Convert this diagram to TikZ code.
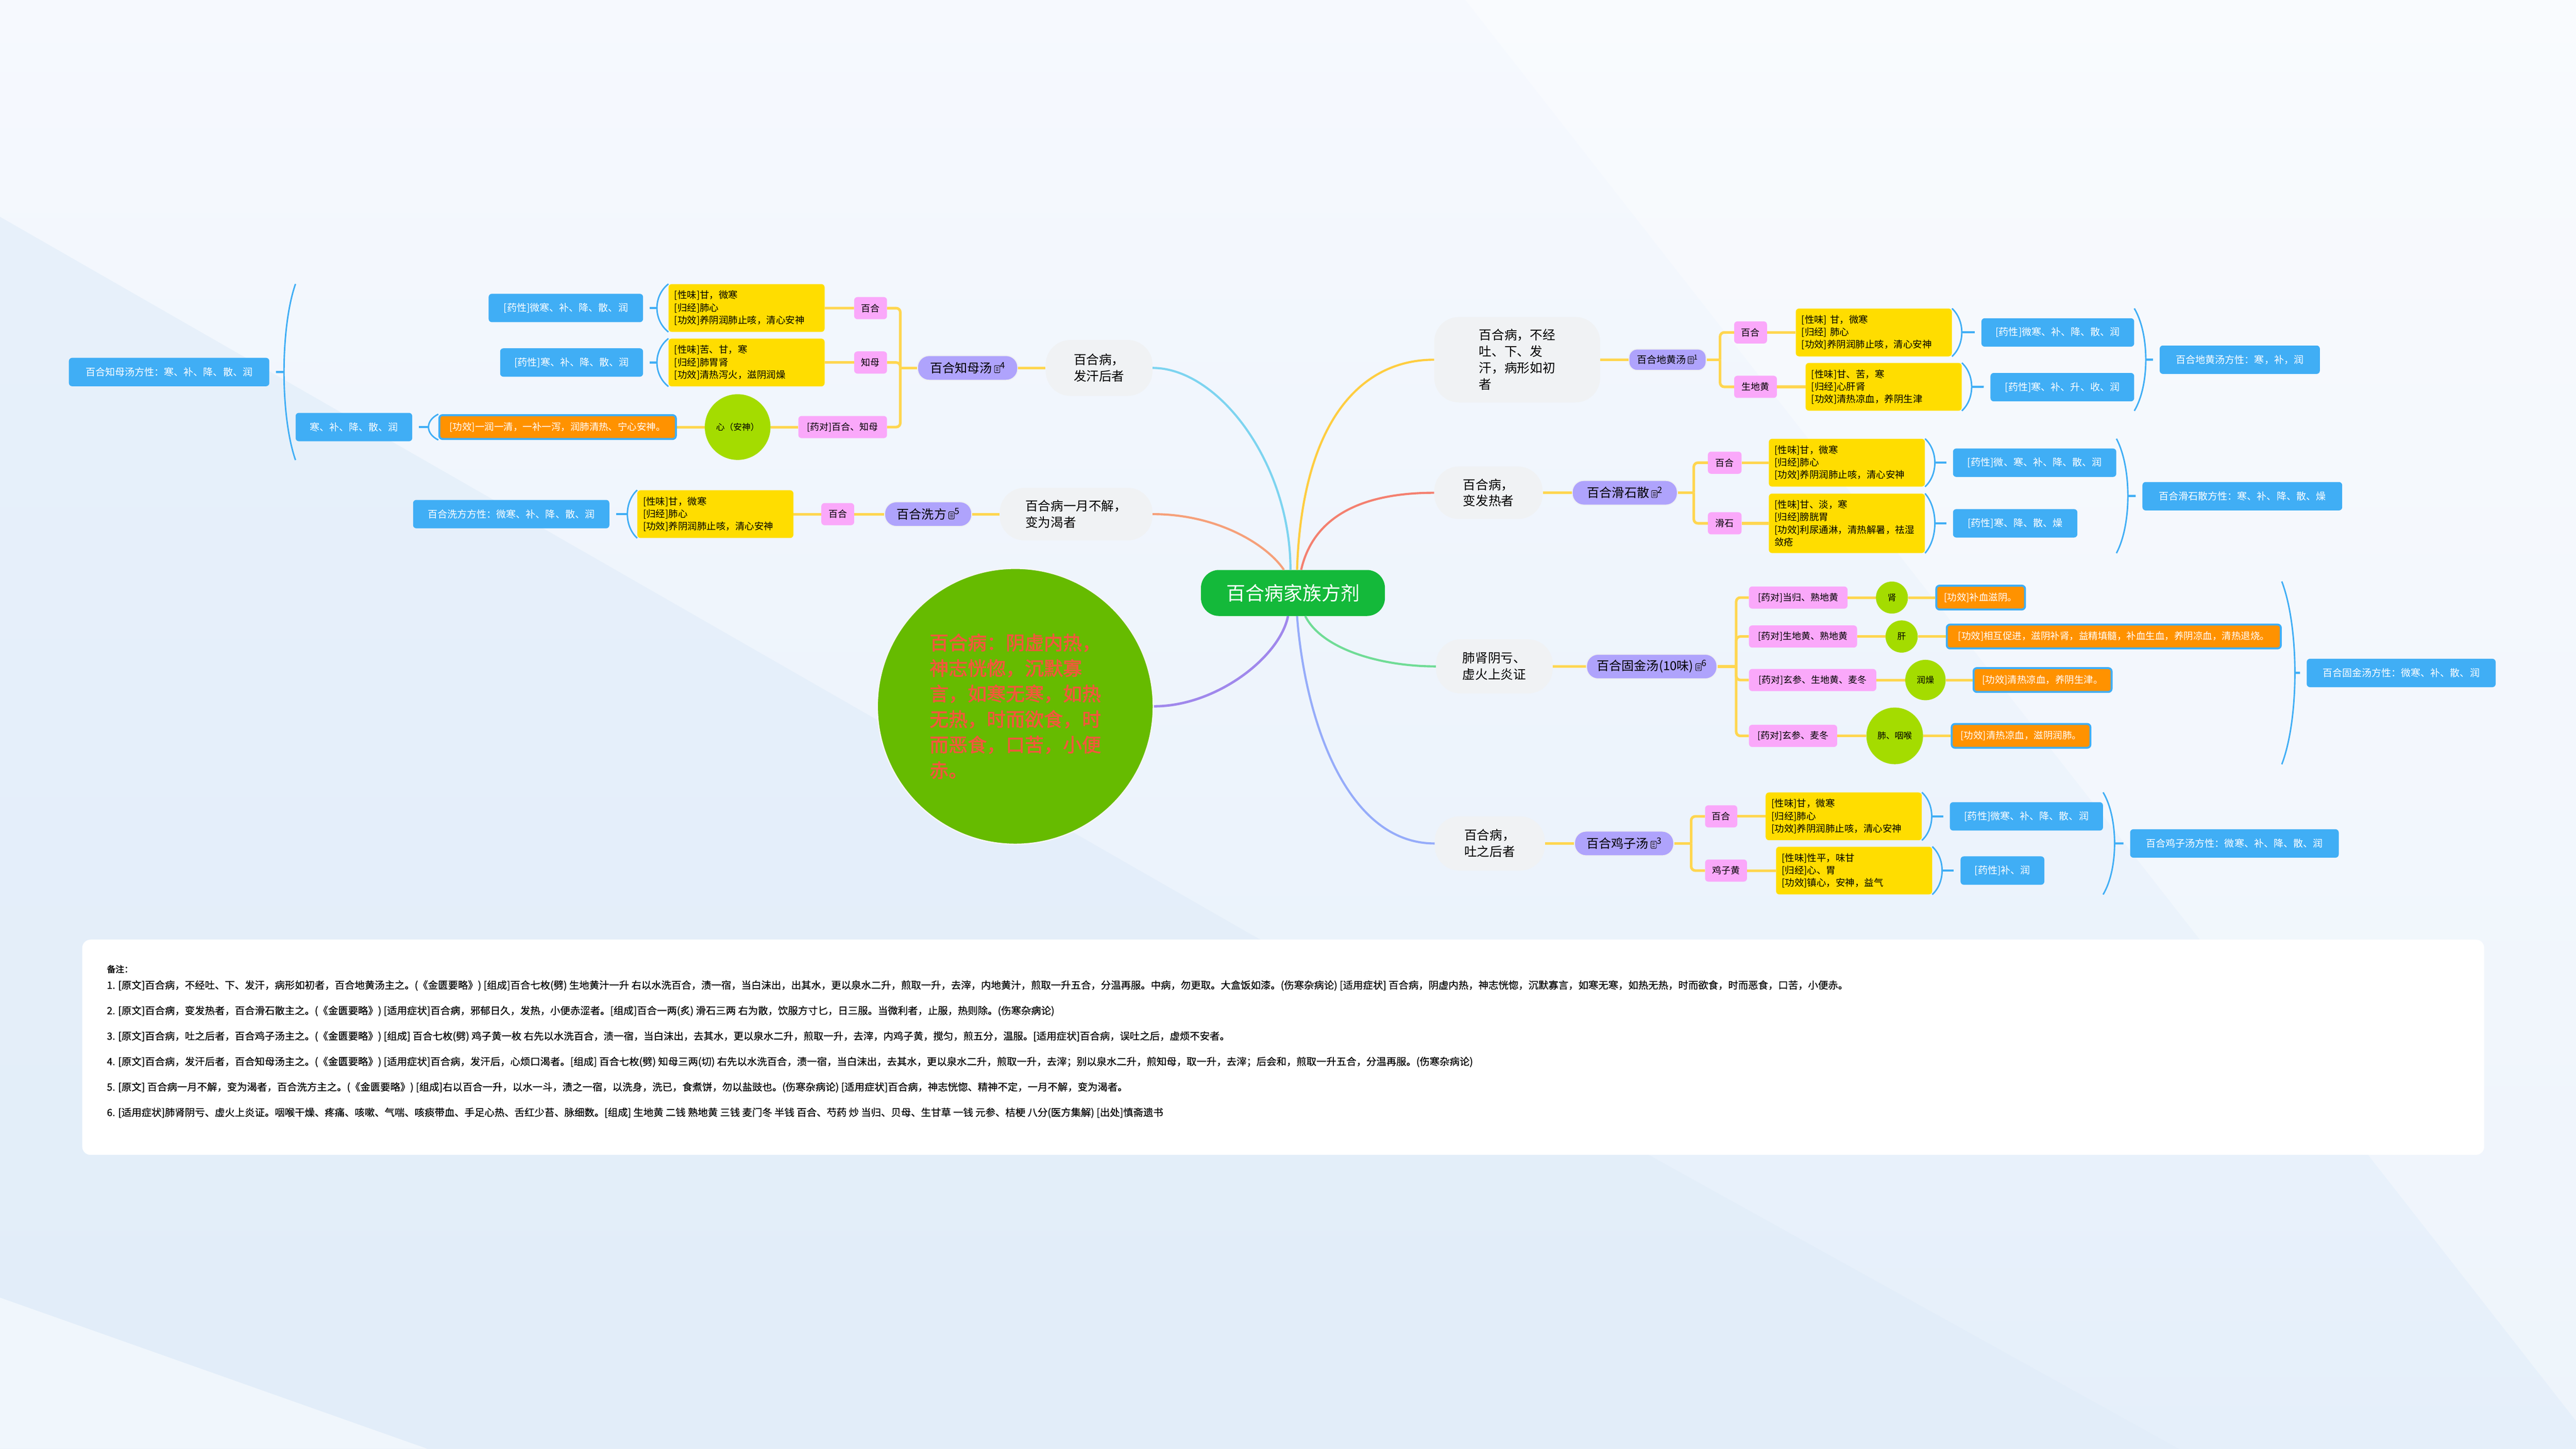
\documentclass[tikz,border=0pt]{standalone}
\usepackage{fontspec}
\setmainfont{Noto Sans CJK SC}
\newfontfamily\heavycjk[FakeBold=2]{Noto Sans CJK SC}
\newfontfamily\notecjk[FakeBold=0.5]{Noto Sans CJK SC}
\usetikzlibrary{calc}

\definecolor{bgtop}{RGB}{246,249,254}
\definecolor{bgblue}{RGB}{229,239,250}
\definecolor{bgmid}{RGB}{224,236,249}
\definecolor{rootgreen}{RGB}{20,185,58}
\definecolor{symgreen}{RGB}{102,187,0}
\definecolor{symred}{RGB}{242,88,60}
\definecolor{topicgray}{RGB}{240,242,244}
\definecolor{formulapurple}{RGB}{175,163,252}
\definecolor{halo}{RGB}{238,240,243}
\definecolor{herbpink}{RGB}{250,168,250}
\definecolor{infoyellow}{RGB}{255,221,0}
\definecolor{propblue}{RGB}{64,174,245}
\definecolor{effectorange}{RGB}{255,146,0}
\definecolor{organgreen}{RGB}{164,220,0}
\definecolor{connyellow}{RGB}{255,214,80}
\definecolor{lineA}{RGB}{125,212,240}
\definecolor{lineB}{RGB}{246,160,122}
\definecolor{lineC}{RGB}{255,205,64}
\definecolor{lineD}{RGB}{244,128,112}
\definecolor{lineE}{RGB}{112,220,150}
\definecolor{lineF}{RGB}{150,172,250}
\definecolor{lineS}{RGB}{160,136,236}

\tikzset{
  rootnode/.style={fill=rootgreen, text=white, rounded corners=11mm, minimum height=28mm, inner sep=0, font=\fontsize{33}{40}\selectfont},
  symptom/.style={circle, fill=symgreen, draw=white!92!gray, line width=0.8mm, minimum size=168mm, inner sep=0, align=left, text=symred, font=\heavycjk\fontsize{33}{44.2}\selectfont},
  topic/.style={fill=topicgray, rounded corners=15mm, inner sep=0, align=left, font=\fontsize{22}{28.5}\selectfont},
  formula/.style={fill=formulapurple, draw=halo, line width=0.6mm, rounded corners=7mm, minimum height=15mm, inner sep=0, font=\fontsize{21.5}{26}\selectfont},
  herb/.style={fill=herbpink, rounded corners=2mm, minimum height=13.5mm, inner sep=0, font=\fontsize{16}{20}\selectfont},
  info/.style={fill=infoyellow, rounded corners=2mm, text width=88mm, inner xsep=3.5mm, inner ysep=4mm, minimum height=29mm, align=left, font=\fontsize{16.5}{21.6}\selectfont},
  prop/.style={fill=propblue, text=white, rounded corners=2mm, minimum height=17.3mm, inner sep=0, font=\fontsize{17}{20}\selectfont},
  effect/.style={fill=effectorange, draw=propblue, line width=1.2mm, text=white, rounded corners=2mm, minimum height=14.5mm, inner sep=0, font=\fontsize{16.5}{20}\selectfont},
  organ/.style={circle, fill=organgreen, inner sep=0, font=\fontsize{15}{18}\selectfont},
  conn/.style={draw=connyellow, line width=1.6mm, rounded corners=2.5mm},
  branch/.style={line width=1.3mm},
  sumline/.style={draw=propblue, line width=0.9mm},
  sumtick/.style={draw=propblue, line width=1.3mm, shorten >=4mm},
  notepanel/.style={fill=white, rounded corners=5mm},
  notetext/.style={inner sep=0, anchor=west, font=\notecjk\fontsize{17.3}{20}\selectfont}
}

% note icon of the formula topics
\newcommand{\noteicon}{\tikz[x=1mm,y=1mm,baseline=0mm,line width=0.3mm]{\draw[black,fill=none,rounded corners=0.4mm] (0,0) rectangle (3.3,4.3); \draw[black] (0.8,1.2)--(2.5,1.2) (0.8,2.15)--(2.5,2.15) (0.8,3.1)--(2.5,3.1);}}
% summary bracket: top, bottom, bulge, summary node
\newcommand{\sumbrace}[4]{%
  \draw[sumline] (#1) .. controls ($(#1)!0.25!(#2)+(1.33*#3,0)$) and ($(#1)!0.75!(#2)+(1.33*#3,0)$) .. (#2);
  \draw[sumtick] ($(#1)!0.5!(#2)+(#3,0)$) -- (#4);}

\begin{document}
\begin{tikzpicture}[x=1mm, y=-1mm]
\useasboundingbox (0,0) rectangle (1568,882);
% background
\shade[top color=bgtop, bottom color=bgblue] (0,0) rectangle (1568,882);
\fill[bgmid, opacity=0.6] (0,132) -- (760,568) -- (1326,882) -- (0,882) -- cycle;
\fill[white, opacity=0.35] (892,0) -- (1568,0) -- (1568,865) -- cycle;
\fill[white, opacity=0.5] (0,790) -- (260,882) -- (0,882) -- cycle;

% centre
\node[rootnode, minimum width=112mm] (root) at (787,361) {百合病家族方剂};
\node[symptom] (sym) at (618,430) {百合病：阴虚内热，\\神志恍惚，沉默寡\\言，如寒无寒，如热\\无热，时而欲食，时\\而恶食，口苦，小便\\赤。};

% cases
\node[topic, minimum width=65mm, minimum height=34mm] (caseA) at (669,224) {百合病，\\发汗后者};
\node[topic, minimum width=93mm, minimum height=32mm] (caseB) at (655,313) {百合病一月不解，\\变为渴者};
\node[topic, minimum width=101mm, minimum height=52mm] (caseC) at (923.5,219) {百合病，不经\\吐、下、发\\汗，病形如初\\者};
\node[topic, minimum width=66mm, minimum height=32mm] (caseD) at (906,300) {百合病，\\变发热者};
\node[topic, minimum width=71mm, minimum height=33mm] (caseE) at (909.6,405.7) {肺肾阴亏、\\虚火上炎证};
\node[topic, minimum width=67mm, minimum height=33mm] (caseF) at (906.8,513.5) {百合病，\\吐之后者};

\draw[branch, lineA] ([xshift=-1.5mm]root.north) .. controls +(0,-65) and +(40,0) .. (caseA.east);
\draw[branch, lineB] ([xshift=-5.5mm]root.north) .. controls +(-10,-15) and +(40,0) .. (caseB.east);
\draw[branch, lineC] ([xshift=2.5mm]root.north) .. controls +(3,-90) and +(-45,0) .. (caseC.west);
\draw[branch, lineD] ([xshift=5mm]root.north) .. controls +(8,-35) and +(-40,0) .. (caseD.west);
\draw[branch, lineS, line width=1.5mm] ([xshift=-3mm]root.south) .. controls +(-5,25) and +(38,0) .. (sym.east);
\draw[branch, lineE] ([xshift=7.5mm]root.south) .. controls +(10,20) and +(-34,0) .. (caseE.west);
\draw[branch, lineF] ([xshift=2.5mm]root.south) .. controls +(5,65) and +(-53,0) .. (caseF.west);

% formulas
\node[formula, minimum width=61mm] (fA) at (589,224) {百合知母汤\,\noteicon\textsuperscript{4}};
\node[formula, minimum width=53mm] (fB) at (565,313) {百合洗方\,\noteicon\textsuperscript{5}};
\node[formula, minimum width=47mm, minimum height=13mm, rounded corners=5mm, font=\fontsize{17}{20}\selectfont] (fC) at (1015,219) {百合地黄汤\,\noteicon\textsuperscript{1}};
\node[formula, minimum width=64mm] (fD) at (989,300) {百合滑石散\,\noteicon\textsuperscript{2}};
\node[formula, minimum width=79.4mm] (fE) at (1005.4,405.8) {百合固金汤(10味)\,\noteicon\textsuperscript{6}};
\node[formula, minimum width=60.4mm] (fF) at (988.6,513.5) {百合鸡子汤\,\noteicon\textsuperscript{3}};
\foreach \c in {A,B,C,D,E,F} \draw[conn] (case\c) -- (f\c);

% 百合知母汤
\node[herb, minimum width=20mm, anchor=east] (hA1) at (540,187.6) {百合};
\node[herb, minimum width=20mm, anchor=east] (hA2) at (540,220.7) {知母};
\node[herb, minimum width=54mm, anchor=east] (hA3) at (540,260) {[药对]百合、知母};
\node[info, anchor=east] (iA1) at (502,187.5) {[性味]甘，微寒\\{}[归经]肺心\\{}[功效]养阴润肺止咳，清心安神};
\node[info, anchor=east] (iA2) at (502,220.7) {[性味]苦、甘，寒\\{}[归经]肺胃肾\\{}[功效]清热泻火，滋阴润燥};
\node[organ, minimum size=40mm] (oA3) at (449,260) {心（安神）};
\node[effect, minimum width=144mm, anchor=east] (eA3) at (412,260) {[功效]一润一清，一补一泻，润肺清热、宁心安神。};
\node[prop, minimum width=94mm, anchor=east] (pA1) at (391.5,187.5) {[药性]微寒、补、降、散、润};
\node[prop, minimum width=87mm, anchor=east] (pA2) at (391.5,220.7) {[药性]寒、补、降、散、润};
\node[prop, minimum width=71mm, anchor=east] (pA3) at (251,260) {寒、补、降、散、润};
\node[prop, minimum width=122mm, anchor=east] (sumA) at (164,226.5) {百合知母汤方性：寒、补、降、散、润};
\coordinate (tA) at (548,224);
\draw[conn] (fA) -- (tA);
\foreach \n in {hA1,hA2,hA3} \draw[conn] (tA) |- (\n.east);
\draw[conn] (hA1) -- (iA1);
\draw[conn] (hA2) -- (iA2);
\draw[conn] (hA3) -- (oA3) -- (eA3);
\sumbrace{iA1.north west}{iA1.south west}{-7}{pA1}
\sumbrace{iA2.north west}{iA2.south west}{-7}{pA2}
\sumbrace{eA3.north west}{eA3.south west}{-6}{pA3}
\sumbrace{pA3.west |- iA1.north}{pA3.west |- oA3.south}{-7}{sumA}

% 百合洗方
\node[herb, minimum width=20mm, anchor=east] (hB1) at (520,313) {百合};
\node[info, anchor=east] (iB1) at (483,313) {[性味]甘，微寒\\{}[归经]肺心\\{}[功效]养阴润肺止咳，清心安神};
\node[prop, minimum width=119.5mm, anchor=east] (sumB) at (371,313) {百合洗方方性：微寒、补、降、散、润};
\draw[conn] (fB) -- (hB1) -- (iB1);
\sumbrace{iB1.north west}{iB1.south west}{-6}{sumB}

% 百合地黄汤
\node[herb, minimum width=20mm, anchor=west] (hC1) at (1055.5,202.4) {百合};
\node[herb, minimum width=26mm, anchor=west] (hC2) at (1055.5,235.5) {生地黄};
\node[info, anchor=west] (iC1) at (1093,202.4) {[性味] 甘，微寒\\{}[归经] 肺心\\{}[功效]养阴润肺止咳，清心安神};
\node[info, anchor=west] (iC2) at (1099,235.5) {[性味]甘、苦，寒\\{}[归经]心肝肾\\{}[功效]清热凉血，养阴生津};
\node[prop, minimum width=93mm, anchor=west] (pC1) at (1206,202.4) {[药性]微寒、补、降、散、润};
\node[prop, minimum width=87.5mm, anchor=west] (pC2) at (1211.5,235.7) {[药性]寒、补、升、收、润};
\node[prop, minimum width=97.5mm, anchor=west] (sumC) at (1314.5,219) {百合地黄汤方性：寒，补，润};
\coordinate (tC) at (1047,219);
\draw[conn] (fC) -- (tC);
\foreach \n in {hC1,hC2} \draw[conn] (tC) |- (\n.west);
\draw[conn] (hC1) -- (iC1);
\draw[conn] (hC2) -- (iC2);
\sumbrace{iC1.north east}{iC1.south east}{6}{pC1}
\sumbrace{iC2.north east}{iC2.south east}{6}{pC2}
\sumbrace{pC1.east |- iC1.north}{pC1.east |- iC2.south}{7}{sumC}

% 百合滑石散
\node[herb, minimum width=20.5mm, anchor=west] (hD1) at (1039.5,281.7) {百合};
\node[herb, minimum width=20.5mm, anchor=west] (hD2) at (1039.5,318.6) {滑石};
\node[info, anchor=west] (iD1) at (1076.6,281.7) {[性味]甘，微寒\\{}[归经]肺心\\{}[功效]养阴润肺止咳，清心安神};
\node[info, anchor=west] (iD2) at (1076.6,318.6) {[性味]甘、淡，寒\\{}[归经]膀胱胃\\{}[功效]利尿通淋，清热解暑，祛湿\\敛疮};
\node[prop, minimum width=99.4mm, anchor=west] (pD1) at (1188.7,281.7) {[药性]微、寒、补、降、散、润};
\node[prop, minimum width=75.7mm, anchor=west] (pD2) at (1188.7,318.6) {[药性]寒、降、散、燥};
\node[prop, minimum width=121.6mm, anchor=west] (sumD) at (1304,302.1) {百合滑石散方性：寒、补、降、散、燥};
\coordinate (tD) at (1031,300);
\draw[conn] (fD) -- (tD);
\foreach \n in {hD1,hD2} \draw[conn] (tD) |- (\n.west);
\draw[conn] (hD1) -- (iD1);
\draw[conn] (hD2) -- (iD2);
\sumbrace{iD1.north east}{iD1.south east}{6}{pD1}
\sumbrace{iD2.north east}{iD2.south east}{6}{pD2}
\sumbrace{pD1.east |- iD1.north}{pD1.east |- iD2.south}{7}{sumD}

% 百合固金汤
\node[herb, minimum width=60mm, anchor=west] (hE1) at (1064.5,363.8) {[药对]当归、熟地黄};
\node[herb, minimum width=65.8mm, anchor=west] (hE2) at (1064.5,387.5) {[药对]生地黄、熟地黄};
\node[herb, minimum width=77.5mm, anchor=west] (hE3) at (1064.5,414) {[药对]玄参、生地黄、麦冬};
\node[herb, minimum width=53.7mm, anchor=west] (hE4) at (1064.5,448) {[药对]玄参、麦冬};
\node[organ, minimum size=19.5mm] (oE1) at (1151.6,363.8) {肾};
\node[organ, minimum size=19.6mm] (oE2) at (1157.5,387.5) {肝};
\node[organ, minimum size=24.6mm] (oE3) at (1172,414) {润燥};
\node[organ, minimum size=34.5mm] (oE4) at (1153.3,448) {肺、咽喉};
\node[effect, minimum width=54mm, anchor=west] (eE1) at (1178,363.8) {[功效]补血滋阴。};
\node[effect, minimum width=203.3mm, anchor=west] (eE2) at (1184.4,387.5) {[功效]相互促进，滋阴补肾，益精填髓，补血生血，养阴凉血，清热退烧。};
\node[effect, minimum width=84mm, anchor=west] (eE3) at (1200.7,414) {[功效]清热凉血，养阴生津。};
\node[effect, minimum width=84.4mm, anchor=west] (eE4) at (1187.4,448) {[功效]清热凉血，滋阴润肺。};
\node[prop, minimum width=115mm, anchor=west] (sumE) at (1404,409.7) {百合固金汤方性：微寒、补、散、润};
\coordinate (tE) at (1056.8,405.8);
\draw[conn] (fE) -- (tE);
\foreach \k in {1,2,3,4} {
  \draw[conn] (tE) |- (hE\k.west);
  \draw[conn] (hE\k) -- (oE\k) -- (eE\k);
}
\sumbrace{eE2.east |- oE1.north}{eE2.east |- oE4.south}{8}{sumE}

% 百合鸡子汤
\node[herb, minimum width=19.6mm, anchor=west] (hF1) at (1037.8,497) {百合};
\node[herb, minimum width=25.5mm, anchor=west] (hF2) at (1037.8,530) {鸡子黄};
\node[info, anchor=west] (iF1) at (1074.7,497) {[性味]甘，微寒\\{}[归经]肺心\\{}[功效]养阴润肺止咳，清心安神};
\node[info, anchor=west] (iF2) at (1081,530) {[性味]性平，味甘\\{}[归经]心、胃\\{}[功效]镇心，安神，益气};
\node[prop, minimum width=93.2mm, anchor=west] (pF1) at (1186.8,497) {[药性]微寒、补、降、散、润};
\node[prop, minimum width=51mm, anchor=west] (pF2) at (1193.3,530) {[药性]补、润};
\node[prop, minimum width=127mm, anchor=west] (sumF) at (1296.5,513.5) {百合鸡子汤方性：微寒、补、降、散、润};
\coordinate (tF) at (1029.4,513.5);
\draw[conn] (fF) -- (tF);
\foreach \n in {hF1,hF2} \draw[conn] (tF) |- (\n.west);
\draw[conn] (hF1) -- (iF1);
\draw[conn] (hF2) -- (iF2);
\sumbrace{iF1.north east}{iF1.south east}{6}{pF1}
\sumbrace{iF2.north east}{iF2.south east}{6}{pF2}
\sumbrace{pF1.east |- iF1.north}{pF1.east |- iF2.south}{7}{sumF}

% notes
\node[notepanel, anchor=north west, minimum width=1462mm, minimum height=131mm] (panel) at (50,572) {};
\node[notetext, font=\heavycjk\fontsize{15}{18}\selectfont] (noteTitle) at (65,590) {备注：};
\foreach \txt [count=\i] in {
  {1. [原文]百合病，不经吐、下、发汗，病形如初者，百合地黄汤主之。(《金匮要略》) [组成]百合七枚(劈) 生地黄汁一升 右以水洗百合，渍一宿，当白沫出，出其水，更以泉水二升，煎取一升，去滓，内地黄汁，煎取一升五合，分温再服。中病，勿更取。大盒饭如漆。(伤寒杂病论) [适用症状] 百合病，阴虚内热，神志恍惚，沉默寡言，如寒无寒，如热无热，时而欲食，时而恶食，口苦，小便赤。},
  {2. [原文]百合病，变发热者，百合滑石散主之。(《金匮要略》) [适用症状]百合病，邪郁日久，发热，小便赤涩者。[组成]百合一两(炙) 滑石三两 右为散，饮服方寸匕，日三服。当微利者，止服，热则除。(伤寒杂病论)},
  {3. [原文]百合病，吐之后者，百合鸡子汤主之。(《金匮要略》) [组成] 百合七枚(劈) 鸡子黄一枚 右先以水洗百合，渍一宿，当白沫出，去其水，更以泉水二升，煎取一升，去滓，内鸡子黄，搅匀，煎五分，温服。[适用症状]百合病，误吐之后，虚烦不安者。},
  {4. [原文]百合病，发汗后者，百合知母汤主之。(《金匮要略》) [适用症状]百合病，发汗后，心烦口渴者。[组成] 百合七枚(劈) 知母三两(切) 右先以水洗百合，渍一宿，当白沫出，去其水，更以泉水二升，煎取一升，去滓；别以泉水二升，煎知母，取一升，去滓；后会和，煎取一升五合，分温再服。(伤寒杂病论)},
  {5. [原文] 百合病一月不解，变为渴者，百合洗方主之。(《金匮要略》) [组成]右以百合一升，以水一斗，渍之一宿，以洗身，洗已，食煮饼，勿以盐豉也。(伤寒杂病论) [适用症状]百合病，神志恍惚、精神不定，一月不解，变为渴者。},
  {6. [适用症状]肺肾阴亏、虚火上炎证。咽喉干燥、疼痛、咳嗽、气喘、咳痰带血、手足心热、舌红少苔、脉细数。[组成] 生地黄 二钱 熟地黄 三钱 麦门冬 半钱 百合、芍药 炒 当归、贝母、生甘草 一钱 元参、桔梗 八分(医方集解) [出处]慎斋遗书}}
  \node[notetext] (note\i) at (65,{584.5+15.5*\i}) {\txt};
\end{tikzpicture}
\end{document}
